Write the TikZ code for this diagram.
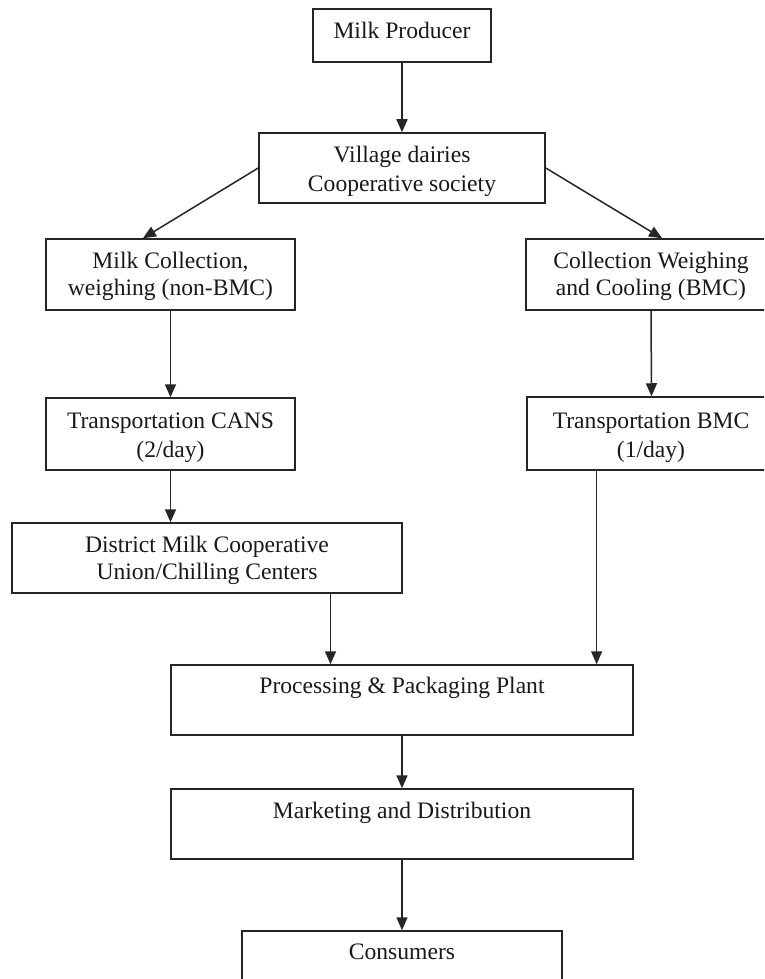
\documentclass[tikz,border=0pt]{standalone}
\usepackage{fontspec}
\setmainfont{Liberation Serif}
\usetikzlibrary{arrows.meta,calc}
\begin{document}
\begin{tikzpicture}[x=1pt,y=-1pt,
  box/.style={draw=black!85,line width=1.5pt,rectangle,inner sep=0pt},
  txt/.style={anchor=base,inner sep=0pt,font=\fontsize{23.6}{28}\selectfont,text=black!90},
  arr/.style={draw=black!85,line width=1.5pt,-{Triangle[length=13pt,width=11pt]}}]
\clip (0,0) rectangle (764,979);
\fill[white] (0,0) rectangle (764,979);
% boxes
\node[box,minimum width=178pt,minimum height=53pt] (prod) at (402,35.5) {};
\node[box,minimum width=286pt,minimum height=70pt] (vill) at (402,168) {};
\node[box,minimum width=249pt,minimum height=71pt] (mc) at (170.5,274.5) {};
\node[box,minimum width=250pt,minimum height=71pt] (cw) at (651,274.5) {};
\node[box,minimum width=249pt,minimum height=72pt] (tc) at (170.5,434) {};
\node[box,minimum width=249pt,minimum height=73pt] (tb) at (651.5,433.5) {};
\node[box,minimum width=390pt,minimum height=70pt] (dist) at (207,558) {};
\node[box,minimum width=462pt,minimum height=70pt] (proc) at (402,700) {};
\node[box,minimum width=462pt,minimum height=70pt] (mkt) at (402,824) {};
\node[box,minimum width=320pt,minimum height=80pt] (cons) at (402,971) {};
% texts
\node[txt] (tprod) at (402,39) {Milk Producer};
\node[txt] (tvill1) at (402,162) {Village dairies};
\node[txt] (tvill2) at (402,191) {Cooperative society};
\node[txt] (tmc1) at (170.5,268) {Milk Collection,};
\node[txt] (tmc2) at (170.5,295) {weighing (non-BMC)};
\node[txt] (tcw1) at (651,268) {Collection Weighing};
\node[txt] (tcw2) at (651,295) {and Cooling (BMC)};
\node[txt] (ttc1) at (170.5,428) {Transportation CANS};
\node[txt] (ttc2) at (170.5,457) {(2/day)};
\node[txt] (ttb1) at (651,428) {Transportation BMC};
\node[txt] (ttb2) at (651,457) {(1/day)};
\node[txt] (tdist1) at (207,552) {District Milk Cooperative};
\node[txt] (tdist2) at (207,579) {Union/Chilling Centers};
\node[txt] (tproc) at (402,693) {Processing \& Packaging Plant};
\node[txt] (tmkt) at (402,818) {Marketing and Distribution};
\node[txt] (tcons) at (402,959) {Consumers};
% connectors
\draw[arr] (prod.south) -- (vill.north);
\draw[arr] (vill.west) -- ($(mc.north west)!0.39!(mc.north east)$);
\draw[arr] (vill.east) -- ($(cw.north west)!0.544!(cw.north east)$);
\draw[arr] (mc.south) -- (tc.north);
\draw[arr] (cw.south) -- (tb.north);
\draw[arr] (tc.south) -- (tc.south |- dist.north);
\coordinate (dstart) at ($(dist.south west)!0.8154!(dist.south east)$);
\draw[arr] (dstart) -- (dstart |- proc.north);
\coordinate (bstart) at ($(tb.south west)!0.281!(tb.south east)$);
\draw[arr] (bstart) -- (bstart |- proc.north);
\draw[arr] (proc.south) -- (mkt.north);
\draw[arr] (mkt.south) -- (cons.north);
\end{tikzpicture}
\end{document}
